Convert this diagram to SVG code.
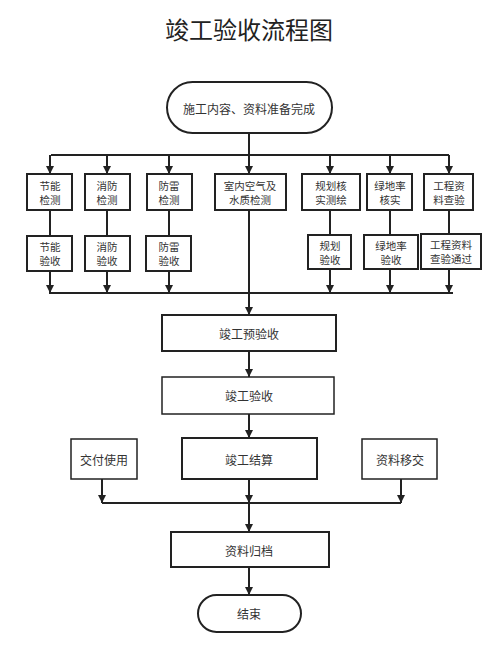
<svg xmlns="http://www.w3.org/2000/svg" width="500" height="666" viewBox="0 0 500 666">
<style>
text{font-family:"Noto Sans CJK SC","Noto Sans",sans-serif;fill:#333;text-anchor:middle;dominant-baseline:central}
.t{font-size:10.5px}
.m{font-size:12px}
.box{fill:#fff;stroke:#222;stroke-width:2}
.thin{fill:#fff;stroke:#222;stroke-width:1.5}
.ln{fill:none;stroke:#222;stroke-width:2}
</style>
<defs>
<marker id="ah" viewBox="0 0 10 10" refX="10" refY="5" markerWidth="4" markerHeight="4.5" orient="auto" markerUnits="strokeWidth">
<path d="M0,0 L10,5 L0,10 z" fill="#222"/>
</marker>
</defs>
<rect width="500" height="666" fill="#fff"/>
<text x="249" y="28" style="font-size:24px;fill:#222">竣工验收流程图</text>

<g id="connectors">
<path class="ln" d="M249,133 V155"/>
<path class="ln" d="M51,155 H449"/>
<path class="ln" d="M50,155 V174" marker-end="url(#ah)"/>
<path class="ln" d="M107,155 V174" marker-end="url(#ah)"/>
<path class="ln" d="M169,155 V174" marker-end="url(#ah)"/>
<path class="ln" d="M249,155 V174" marker-end="url(#ah)"/>
<path class="ln" d="M330,155 V174" marker-end="url(#ah)"/>
<path class="ln" d="M390,155 V174" marker-end="url(#ah)"/>
<path class="ln" d="M449,155 V174" marker-end="url(#ah)"/>
<path class="ln" d="M50,210 V236 M107,210 V236 M169,210 V236 M330,210 V235 M390,210 V235 M449,210 V234"/>
<path class="ln" d="M50,271 V293" marker-end="url(#ah)"/>
<path class="ln" d="M107,271 V293" marker-end="url(#ah)"/>
<path class="ln" d="M169,271 V293" marker-end="url(#ah)"/>
<path class="ln" d="M330,269 V293" marker-end="url(#ah)"/>
<path class="ln" d="M390,269 V293" marker-end="url(#ah)"/>
<path class="ln" d="M449,269 V293" marker-end="url(#ah)"/>
<path class="ln" d="M49,293 H453"/>
<path class="ln" d="M249,210 V315" marker-end="url(#ah)"/>
<path class="ln" d="M249,351 V377" marker-end="url(#ah)"/>
<path class="ln" d="M249,414 V438" marker-end="url(#ah)"/>
<path class="ln" d="M102,479 V503" marker-end="url(#ah)"/>
<path class="ln" d="M249,479 V503" marker-end="url(#ah)"/>
<path class="ln" d="M401,479 V503" marker-end="url(#ah)"/>
<path class="ln" d="M102,503 H401"/>
<path class="ln" d="M249,503 V532" marker-end="url(#ah)"/>
<path class="ln" d="M249,567 V595" marker-end="url(#ah)"/>
</g>

<g id="start"><rect class="box" x="167" y="82" width="165" height="51" rx="25.5"/><text class="m" x="249" y="108">施工内容、资料准备完成</text></g>

<g id="n1"><rect class="box" x="27" y="174" width="45" height="36"/><text class="t" x="50" y="185">节能</text><text class="t" x="50" y="199">检测</text></g>
<g id="n2"><rect class="box" x="85" y="174" width="45" height="36"/><text class="t" x="107" y="185">消防</text><text class="t" x="107" y="199">检测</text></g>
<g id="n3"><rect class="box" x="147" y="174" width="45" height="36"/><text class="t" x="169" y="185">防雷</text><text class="t" x="169" y="199">检测</text></g>
<g id="n4"><rect class="box" x="215" y="174" width="71" height="36"/><text class="t" x="250" y="185">室内空气及</text><text class="t" x="250" y="199">水质检测</text></g>
<g id="n5"><rect class="box" x="302" y="174" width="58" height="36"/><text class="t" x="331" y="185">规划核</text><text class="t" x="331" y="199">实测绘</text></g>
<g id="n6"><rect class="box" x="367" y="174" width="45" height="36"/><text class="t" x="390" y="185">绿地率</text><text class="t" x="390" y="199">核实</text></g>
<g id="n7"><rect class="box" x="424" y="174" width="49" height="36"/><text class="t" x="449" y="185">工程资</text><text class="t" x="449" y="199">料查验</text></g>

<g id="m1"><rect class="box" x="27" y="236" width="45" height="35"/><text class="t" x="50" y="246.5">节能</text><text class="t" x="50" y="260.5">验收</text></g>
<g id="m2"><rect class="box" x="85" y="236" width="45" height="35"/><text class="t" x="107" y="246.5">消防</text><text class="t" x="107" y="260.5">验收</text></g>
<g id="m3"><rect class="box" x="146" y="236" width="45" height="35"/><text class="t" x="169" y="246.5">防雷</text><text class="t" x="169" y="260.5">验收</text></g>
<g id="m5"><rect class="box" x="308" y="235" width="43" height="34"/><text class="t" x="330" y="245">规划</text><text class="t" x="330" y="259">验收</text></g>
<g id="m6"><rect class="box" x="364" y="235" width="54" height="34"/><text class="t" x="391" y="245">绿地率</text><text class="t" x="391" y="259">验收</text></g>
<g id="m7"><rect class="box" x="421" y="234" width="60" height="35"/><text class="t" x="451" y="244.5">工程资料</text><text class="t" x="451" y="258.5">查验通过</text></g>

<g id="pre"><rect class="box" x="162" y="315" width="174" height="36"/><text class="m" x="249" y="333">竣工预验收</text></g>
<g id="acc"><rect class="thin" x="162" y="377" width="172" height="37"/><text class="m" x="249" y="395">竣工验收</text></g>
<g id="use"><rect class="thin" x="71" y="439" width="66" height="40"/><text class="m" x="104" y="459">交付使用</text></g>
<g id="settle"><rect class="box" x="182" y="438" width="135" height="41"/><text class="m" x="249" y="459">竣工结算</text></g>
<g id="hand"><rect class="thin" x="362" y="439" width="75" height="40"/><text class="m" x="400" y="459">资料移交</text></g>
<g id="archive"><rect class="box" x="171" y="532" width="158" height="35"/><text class="m" x="249" y="550">资料归档</text></g>
<g id="end"><rect class="box" x="198" y="595" width="103" height="37" rx="18.5"/><text class="m" x="249" y="613">结束</text></g>
</svg>
